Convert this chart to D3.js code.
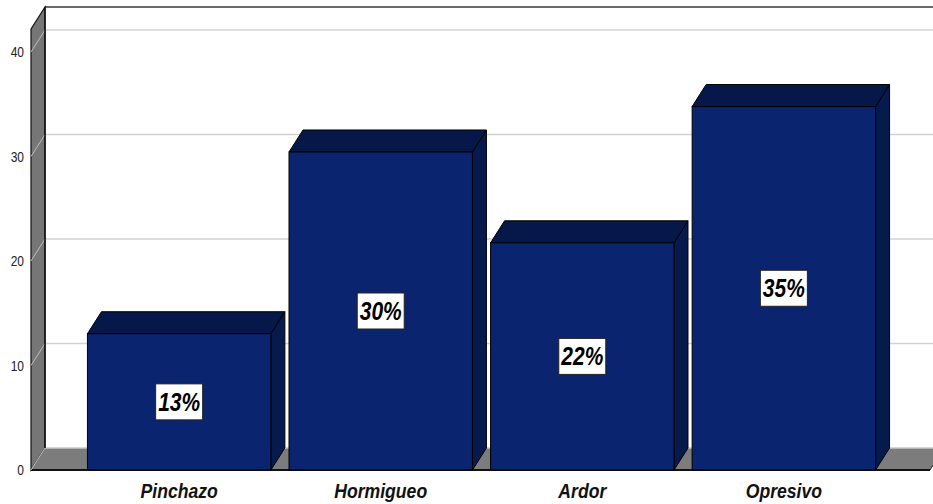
<!DOCTYPE html>
<html>
<head>
<meta charset="utf-8">
<script src="https://cdn.jsdelivr.net/npm/d3@7"></script>
<style>
  html, body { margin: 0; padding: 0; background: #ffffff; }
  svg { display: block; }
  text { font-family: "Liberation Sans", Arial, sans-serif; }
</style>
</head>
<body>
<svg id="chart" width="933" height="504"></svg>
<script>
// Categories and percentage values
const categories = ["Pinchazo", "Hormigueo", "Ardor", "Opresivo"];
const values = [13.04, 30.43, 21.74, 34.78];
const yTicks = [0, 10, 20, 30, 40];

const W = 933, H = 504;
const depthX = 14, depthY = 22;       // 3D depth offset
const frontLeft = 31, frontBottom = 470;

const svg = d3.select("#chart");

const x = d3.scaleBand()
  .domain(categories)
  .range([frontLeft, 932])
  .paddingInner(0.09)
  .paddingOuter(0.28);

const y = d3.scaleLinear()
  .domain([0, 42.2])
  .range([frontBottom, 29]);

const yTop = y.domain()[1];
const backLeft = frontLeft + depthX;
const backRight = 932 + depthX;
const line = d3.line();
const poly = pts => line(pts) + "Z";

// Back wall
svg.append("rect")
  .attr("x", backLeft).attr("y", y(yTop) - depthY)
  .attr("width", backRight - backLeft).attr("height", y(0) - y(yTop))
  .attr("fill", "#ffffff");

// Gridlines on the back wall
svg.append("g").selectAll("line")
  .data(yTicks.filter(d => d > 0))
  .join("line")
  .attr("x1", backLeft).attr("x2", backRight)
  .attr("y1", d => y(d) - depthY).attr("y2", d => y(d) - depthY)
  .attr("stroke", "#d2d2d2").attr("stroke-width", 1.6);

// Top edge of the back wall
svg.append("line")
  .attr("x1", backLeft).attr("x2", backRight)
  .attr("y1", y(yTop) - depthY).attr("y2", y(yTop) - depthY)
  .attr("stroke", "#3a3a3a").attr("stroke-width", 1.6);

// Left side wall
svg.append("path")
  .attr("d", poly([
    [frontLeft, y(yTop)], [backLeft, y(yTop) - depthY],
    [backLeft, y(0) - depthY], [frontLeft, y(0)]
  ]))
  .attr("fill", "#767676").attr("stroke", "#111").attr("stroke-width", 1.2);

// Floor
svg.append("path")
  .attr("d", poly([
    [frontLeft, y(0)], [930, y(0)], [930 + depthX, y(0) - depthY], [backLeft, y(0) - depthY]
  ]))
  .attr("fill", "#7c7c7c").attr("stroke", "none");
svg.append("line")
  .attr("x1", backLeft).attr("x2", backRight)
  .attr("y1", y(0) - depthY).attr("y2", y(0) - depthY)
  .attr("stroke", "#c8c8c8").attr("stroke-width", 1.4);
svg.append("line")
  .attr("x1", 930).attr("x2", 930 + depthX)
  .attr("y1", y(0)).attr("y2", y(0) - depthY)
  .attr("stroke", "#222").attr("stroke-width", 1);
svg.append("line")
  .attr("x1", frontLeft).attr("x2", 930)
  .attr("y1", y(0)).attr("y2", y(0))
  .attr("stroke", "#111").attr("stroke-width", 2);

// Gridline diagonals across the side wall
svg.append("g").selectAll("line")
  .data(yTicks)
  .join("line")
  .attr("x1", frontLeft).attr("y1", d => y(d))
  .attr("x2", backLeft).attr("y2", d => y(d) - depthY)
  .attr("stroke", "#bdbdbd").attr("stroke-width", 1);

// Inner corner edge
svg.append("line")
  .attr("x1", backLeft).attr("x2", backLeft)
  .attr("y1", y(yTop) - depthY).attr("y2", y(0) - depthY)
  .attr("stroke", "#111").attr("stroke-width", 1.4);

// Y axis tick labels
svg.append("g").selectAll("text")
  .data(yTicks)
  .join("text")
  .attr("transform", d => `translate(24,${y(d)}) scale(0.8,1)`)
  .attr("text-anchor", "end")
  .attr("dy", "0.36em")
  .attr("font-size", 15)
  .attr("fill", "#222")
  .text(d => d);

// 3D bars
const bars = svg.append("g").selectAll("g")
  .data(categories.map((c, i) => ({ c, v: values[i] })))
  .join("g");

bars.each(function(d) {
  const g = d3.select(this);
  const x0 = x(d.c), x1 = x(d.c) + x.bandwidth();
  const yt = y(d.v), yb = y(0);
  g.append("path")
    .attr("d", poly([[x1, yt], [x1 + depthX, yt - depthY], [x1 + depthX, yb - depthY], [x1, yb]]))
    .attr("fill", "#061a4e").attr("stroke", "#000").attr("stroke-width", 1);
  g.append("path")
    .attr("d", poly([[x0, yt], [x0 + depthX, yt - depthY], [x1 + depthX, yt - depthY], [x1, yt]]))
    .attr("fill", "#061849").attr("stroke", "#000").attr("stroke-width", 1);
  g.append("rect")
    .attr("x", x0).attr("y", yt)
    .attr("width", x1 - x0).attr("height", yb - yt)
    .attr("fill", "#0b2470").attr("stroke", "#000").attr("stroke-width", 1);

  // Value label box
  const cx = (x0 + x1) / 2, cy = (yt + yb) / 2;
  g.append("rect")
    .attr("x", cx - 23.5).attr("y", cy - 18)
    .attr("width", 47).attr("height", 36)
    .attr("fill", "#ffffff").attr("stroke", "#222").attr("stroke-width", 1);
  g.append("text")
    .attr("transform", `translate(${cx},${cy}) scale(0.84,1)`)
    .attr("text-anchor", "middle")
    .attr("dy", "0.36em")
    .attr("font-size", 25)
    .attr("font-weight", "bold")
    .attr("font-style", "italic")
    .attr("fill", "#000")
    .text(d3.format(".0f")(d.v) + "%");
});

// Category labels
svg.append("g").selectAll("text")
  .data(categories)
  .join("text")
  .attr("transform", d => `translate(${x(d) + x.bandwidth() / 2},498) scale(0.88,1)`)
  .attr("text-anchor", "middle")
  .attr("font-size", 20)
  .attr("font-weight", "bold")
  .attr("font-style", "italic")
  .attr("fill", "#111")
  .text(d => d);
</script>
</body>
</html>
